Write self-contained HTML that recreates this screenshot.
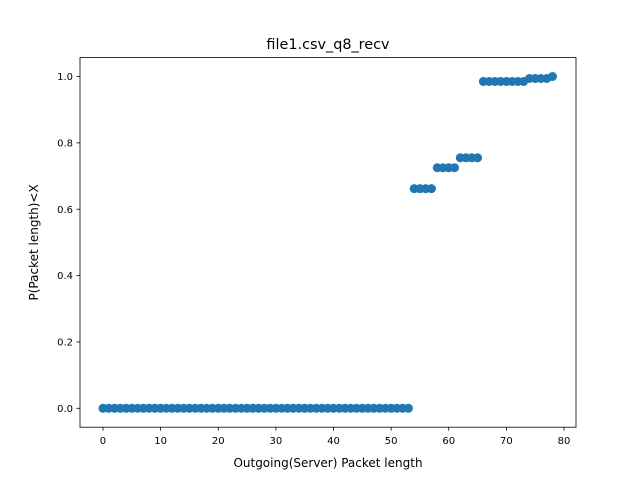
<!DOCTYPE html>
<html><head><meta charset="utf-8"><style>
body{margin:0;background:#fff;}
text{font-family:"DejaVu Sans","Liberation Sans",sans-serif;}
</style></head><body>
<svg id="chart" width="640" height="480" xmlns="http://www.w3.org/2000/svg">
<rect width="640" height="480" fill="#fff"/>
<text x="328" y="49" font-size="14.4" text-anchor="middle">file1.csv_q8_recv</text>
<text x="328" y="467" font-size="12" text-anchor="middle">Outgoing(Server) Packet length</text>
<text transform="translate(38,242.4) rotate(-90)" font-size="12" text-anchor="middle">P(Packet length)&lt;X</text>
<g id="marks"></g>
<g id="axes"></g>
<rect x="80" y="57.6" width="496" height="369.6" fill="none" stroke="#000" stroke-width="0.8"/>
</svg>
<script>
const xValues = [];
for (let i = 0; i <= 78; i++) xValues.push(i);
const yValues = [0,0,0,0,0,0,0,0,0,0,0,0,0,0,0,0,0,0,0,0,0,0,0,0,0,0,0,0,0,0,0,0,0,0,0,0,0,0,0,0,0,0,0,0,0,0,0,0,0,0,0,0,0,0,
0.662,0.662,0.662,0.662,0.725,0.725,0.725,0.725,0.755,0.755,0.755,0.755,
0.985,0.985,0.985,0.985,0.985,0.985,0.985,0.985,0.994,0.994,0.994,0.994,1.0];
const xTicks = [0,10,20,30,40,50,60,70,80];
const yTicks = [0.0,0.2,0.4,0.6,0.8,1.0];
const yTickLabels = ["0.0","0.2","0.4","0.6","0.8","1.0"];
const NS = "http://www.w3.org/2000/svg";
const L=80,R=576,T=57.6,B=427.2;
const xmin=-3.99,xmax=82.08,ymin=-0.057,ymax=1.057;
function sx(v){return L+(v-xmin)/(xmax-xmin)*(R-L);}
function sy(v){return B-(v-ymin)/(ymax-ymin)*(B-T);}
const marks=document.getElementById('marks');
xValues.forEach((x,i)=>{
  const c=document.createElementNS(NS,'circle');
  c.setAttribute('cx',sx(x));c.setAttribute('cy',sy(yValues[i]));c.setAttribute('r',4.5);
  c.setAttribute('fill','#1f77b4');
  
  
  marks.appendChild(c);
});
const axes=document.getElementById('axes');
xTicks.forEach(t=>{
  const x=sx(t);
  const l=document.createElementNS(NS,'line');
  l.setAttribute('x1',x);l.setAttribute('x2',x);l.setAttribute('y1',B);l.setAttribute('y2',B+3.5);l.setAttribute('stroke','#000');l.setAttribute('stroke-width','0.8');
  
  
  axes.appendChild(l);
  const tx=document.createElementNS(NS,'text');
  tx.setAttribute('x',x);tx.setAttribute('y',B+17);tx.setAttribute('font-size','10');tx.setAttribute('text-anchor','middle');
  tx.textContent=String(t);
  
  
  axes.appendChild(tx);
});
yTicks.forEach((t,i)=>{
  const y=sy(t);
  const l=document.createElementNS(NS,'line');
  l.setAttribute('x1',L-3.5);l.setAttribute('x2',L);l.setAttribute('y1',y);l.setAttribute('y2',y);l.setAttribute('stroke','#000');l.setAttribute('stroke-width','0.8');
  
  
  axes.appendChild(l);
  const tx=document.createElementNS(NS,'text');
  tx.setAttribute('x',L-7);tx.setAttribute('y',y+3.6);tx.setAttribute('font-size','10');tx.setAttribute('text-anchor','end');
  tx.textContent=yTickLabels[i];
  
  
  axes.appendChild(tx);
});
</script>
</body></html>
